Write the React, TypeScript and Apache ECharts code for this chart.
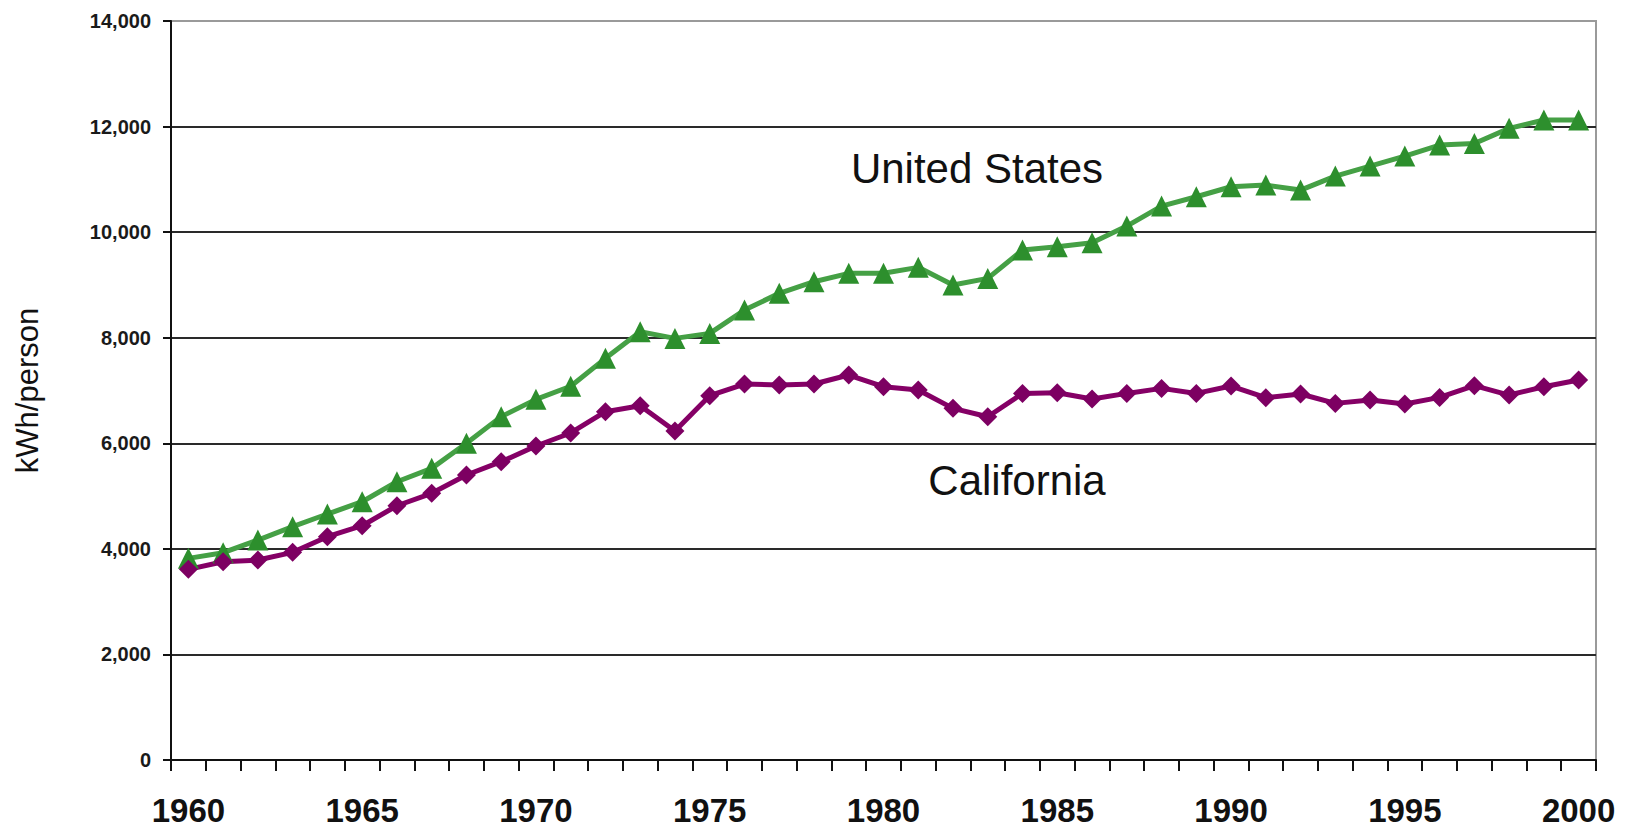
import React, { useEffect, useRef } from "react";
import * as echarts from "echarts";

const years: string[] = [];
for (let y = 1960; y <= 2000; y++) years.push(String(y));

const unitedStates = [
  3820, 3927, 4167, 4420, 4660, 4893, 5272, 5525, 6000, 6505,
  6832, 7080, 7609, 8114, 7987, 8082, 8524, 8840, 9061, 9220,
  9220, 9333, 8998, 9124, 9661, 9724, 9800, 10115, 10494, 10671,
  10860, 10892, 10797, 11062, 11252, 11441, 11650, 11680, 11966, 12124,
  12124,
];

const california = [
  3612, 3757, 3788, 3934, 4230, 4438, 4817, 5052, 5399, 5651,
  5948, 6195, 6598, 6712, 6232, 6901, 7123, 7104, 7123, 7293,
  7072, 7009, 6662, 6503, 6945, 6958, 6838, 6945, 7040, 6945,
  7085, 6863, 6933, 6756, 6819, 6743, 6869, 7091, 6914, 7072,
  7198,
];

const seriesNames = ["United States", "California"];
const yAxisTitle = "kWh/person";

const FONT = "'Liberation Sans', Arial, sans-serif";

export default function App() {
  const ref = useRef<HTMLDivElement>(null);

  useEffect(() => {
    if (!ref.current) return;
    const chart = echarts.init(ref.current, undefined, { renderer: "svg" });
    chart.setOption({
      animation: false,
      backgroundColor: "#ffffff",
      grid: {
        left: 171,
        top: 21,
        right: 44,
        bottom: 69,
        show: true,
        borderColor: "#9a9a9a",
        borderWidth: 2,
        backgroundColor: "transparent",
      },
      xAxis: {
        type: "category",
        data: years,
        boundaryGap: true,
        axisLine: { show: true, lineStyle: { color: "#111", width: 2 } },
        axisTick: { show: true, interval: 0, length: 11, lineStyle: { color: "#111", width: 2 } },
        axisLabel: {
          interval: 4,
          margin: 34,
          fontFamily: FONT,
          fontWeight: "bold",
          fontSize: 33,
          color: "#111",
        },
        splitLine: { show: false },
      },
      yAxis: {
        type: "value",
        min: 0,
        max: 14000,
        interval: 2000,
        name: yAxisTitle,
        nameLocation: "middle",
        nameGap: 128,
        nameRotate: 90,
        nameTextStyle: { fontFamily: FONT, fontSize: 31, color: "#111" },
        axisLine: { show: true, lineStyle: { color: "#111", width: 2 } },
        axisTick: { show: true, length: 8, lineStyle: { color: "#111", width: 2 } },
        axisLabel: {
          margin: 20,
          fontFamily: FONT,
          fontWeight: "bold",
          fontSize: 20,
          color: "#1a1a1a",
          formatter: (v: number) => v.toLocaleString("en-US"),
        },
        splitLine: {
          show: true,
          showMinLine: false,
          showMaxLine: false,
          lineStyle: { color: "#2a2a2a", width: 2 },
        },
      },
      graphic: [
        {
          type: "text",
          x: 977,
          y: 168,
          style: {
            text: seriesNames[0],
            font: `42px ${FONT}`,
            fill: "#111",
            align: "center",
            verticalAlign: "middle",
          },
        },
        {
          type: "text",
          x: 1017,
          y: 480,
          style: {
            text: seriesNames[1],
            font: `42px ${FONT}`,
            fill: "#111",
            align: "center",
            verticalAlign: "middle",
          },
        },
      ],
      series: [
        {
          name: seriesNames[0],
          type: "line",
          data: unitedStates,
          symbol: "triangle",
          symbolSize: 21,
          lineStyle: { color: "#45a045", width: 5 },
          itemStyle: { color: "#2d8f2d" },
          z: 3,
        },
        {
          name: seriesNames[1],
          type: "line",
          data: california,
          symbol: "diamond",
          symbolSize: 19,
          lineStyle: { color: "#850066", width: 5 },
          itemStyle: { color: "#7d0062" },
          z: 3,
        },
      ],
    });
    return () => chart.dispose();
  }, []);

  return (
    <div
      ref={ref}
      style={{ position: "absolute", left: 0, top: 0, width: 1640, height: 829 }}
    />
  );
}
